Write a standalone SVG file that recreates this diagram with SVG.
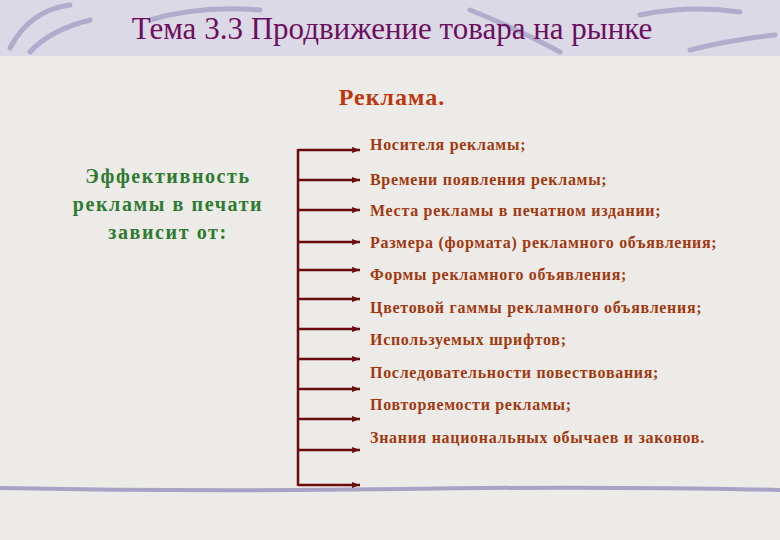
<svg xmlns="http://www.w3.org/2000/svg" width="780" height="540" viewBox="0 0 780 540">
<style>
.it{font-family:"Liberation Serif",serif;font-weight:bold;font-size:16px;letter-spacing:0.7px;fill:#a3380f}
.lt{font-family:"Liberation Serif",serif;font-weight:bold;font-size:20px;letter-spacing:1.6px;fill:#2e7a30}
.c{stroke:#6b0d0d;stroke-width:2.5;fill:none}
</style>
<defs><marker id="a" markerWidth="8" markerHeight="6" refX="8" refY="3" orient="auto" markerUnits="userSpaceOnUse"><path d="M0,0 L8,3 L0,6z" fill="#6b0d0d"/></marker></defs>
<rect width="780" height="540" fill="#ecebe8"/>
<rect width="780" height="56" fill="#dcd9e6"/>
<g stroke="#a6a3c6" stroke-width="5" fill="none" stroke-linecap="round" opacity="0.8">
<path d="M10,48 Q30,10 70,5"/><path d="M30,52 Q50,30 90,20"/><path d="M150,20 Q200,5 260,10"/><path d="M470,10 Q520,30 560,52"/><path d="M640,15 Q690,5 740,12"/><path d="M690,50 Q730,40 775,35"/>
</g>
<path d="M0,488 Q200,492 400,489 T780,490" stroke="#a6a3c6" stroke-width="4" fill="none"/>
<text x="392" y="39" text-anchor="middle" font-family="Liberation Serif,serif" font-size="31" fill="#6b0f5e">Тема 3.3 Продвижение товара на рынке</text>
<text x="392" y="105" text-anchor="middle" font-family="Liberation Serif,serif" font-weight="bold" font-size="24" letter-spacing="1" fill="#c0360c">Реклама.</text>
<g id="left"><text class="lt" text-anchor="middle"><tspan x="168" y="183">Эффективность</tspan><tspan x="168" y="211">рекламы в печати</tspan><tspan x="168" y="239">зависит от:</tspan></text></g>
<g id="connectors">
<line class="c" x1="298" y1="149" x2="298" y2="486"/>
<g marker-end="url(#a)">
<path class="c" d="M298,150H360"/><path class="c" d="M298,180H360"/><path class="c" d="M298,210H360"/><path class="c" d="M298,242H360"/><path class="c" d="M298,270H360"/><path class="c" d="M298,299H360"/><path class="c" d="M298,329H360"/><path class="c" d="M298,359H360"/><path class="c" d="M298,389H360"/><path class="c" d="M298,419H360"/><path class="c" d="M298,450H360"/><path class="c" d="M298,485H360"/>
</g>
</g>
<g id="items">
<text class="it" x="370" y="150">Носителя рекламы;</text>
<text class="it" x="370" y="185">Времени появления рекламы;</text>
<text class="it" x="370" y="216">Места рекламы в печатном издании;</text>
<text class="it" x="370" y="248">Размера (формата) рекламного объявления;</text>
<text class="it" x="370" y="280">Формы рекламного объявления;</text>
<text class="it" x="370" y="313">Цветовой гаммы рекламного объявления;</text>
<text class="it" x="370" y="345">Используемых шрифтов;</text>
<text class="it" x="370" y="378">Последовательности повествования;</text>
<text class="it" x="370" y="410">Повторяемости рекламы;</text>
<text class="it" x="370" y="443">Знания национальных обычаев и законов.</text>
</g>
</svg>
